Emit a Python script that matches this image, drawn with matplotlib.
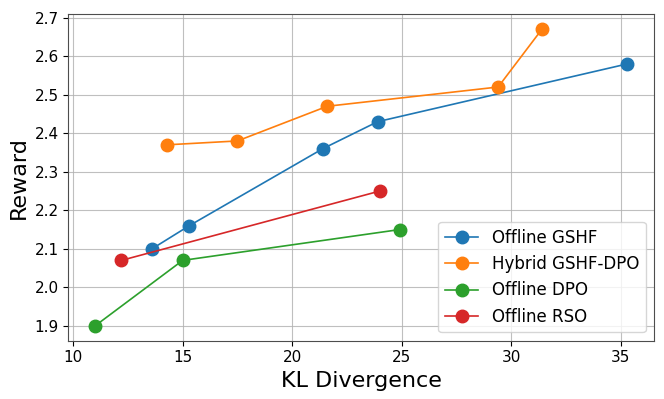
import matplotlib
matplotlib.use('Agg')
from matplotlib import pyplot as plt

gshf_kl = [13.6, 15.3, 21.4, 23.9, 35.3]
gshf_reward = [2.10, 2.16, 2.36, 2.43, 2.58]
hybrid_kl = [14.3, 17.5, 21.6, 29.4, 31.4]
hybrid_reward = [2.37, 2.38, 2.47, 2.52, 2.67]
dpo_kl = [11.0, 15.0, 24.9]
dpo_reward = [1.90, 2.07, 2.15]
rso_kl = [12.2, 24.0]
rso_reward = [2.07, 2.25]

fig = plt.figure(figsize=(6.64, 3.99), dpi=100)
ax = fig.add_axes([0.103, 0.146, 0.882, 0.818])
ax.plot(gshf_kl, gshf_reward, marker='o', markersize=9, linewidth=1.2, label='Offline GSHF')
ax.plot(hybrid_kl, hybrid_reward, marker='o', markersize=9, linewidth=1.2, label='Hybrid GSHF-DPO')
ax.plot(dpo_kl, dpo_reward, marker='o', markersize=9, linewidth=1.2, label='Offline DPO')
ax.plot(rso_kl, rso_reward, marker='o', markersize=9, linewidth=1.2, label='Offline RSO')
ax.set_xlabel('KL Divergence', fontsize=16)
ax.set_ylabel('Reward', fontsize=16)
ax.tick_params(labelsize=11)
for s in ax.spines.values():
    s.set_edgecolor('0.3')
ax.grid(True, alpha=0.8)
ax.legend(loc='lower right', fontsize=12)
fig.savefig('out.png', dpi=100)
